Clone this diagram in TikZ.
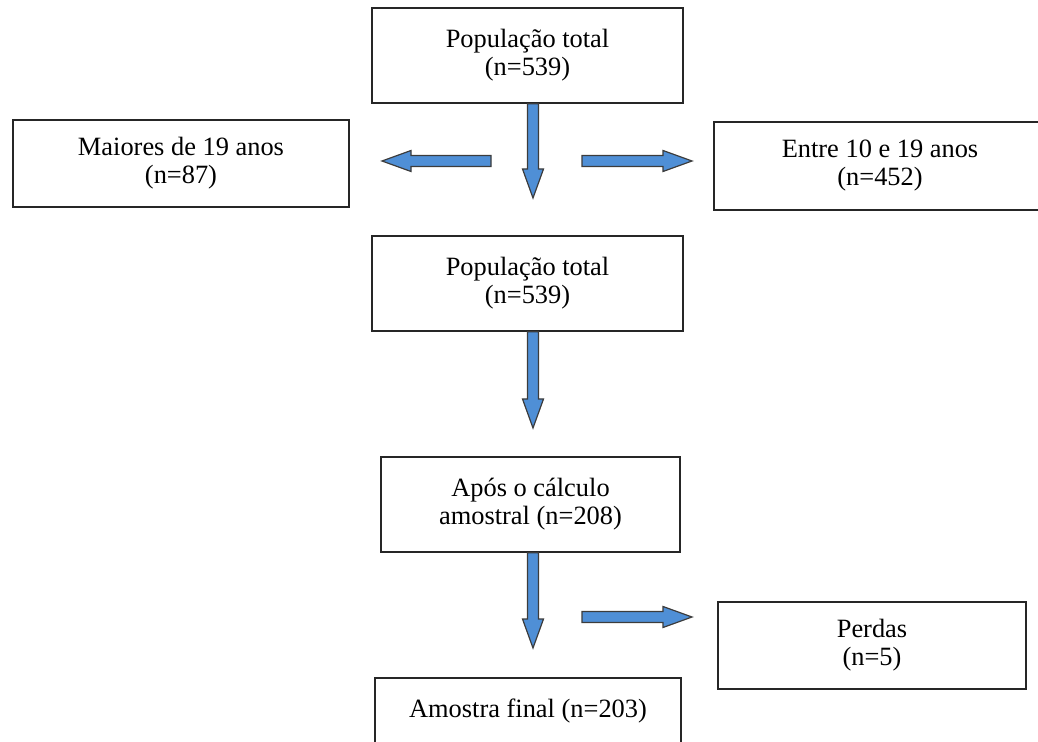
\documentclass[tikz,border=0pt]{standalone}
\usepackage{fontspec}
\setmainfont{Liberation Serif}
\usetikzlibrary{calc}
\definecolor{arrowblue}{RGB}{79,143,214}
\definecolor{arrowedge}{RGB}{60,60,60}
\tikzset{
  box/.style={draw=black!85, line width=0.75pt, align=center, inner sep=0pt,
    font=\fontsize{13.2}{14}\selectfont},
  fatarrow/.style={fill=arrowblue, draw=arrowedge, line width=0.6pt,
    to path={let \p1=(\tikztostart), \p2=(\tikztotarget),
      \n1={atan2(\y2-\y1,\x2-\x1)}, \n2={veclen(\x2-\x1,\y2-\y1)-14.5pt} in
      ($(\p1)+(\n1+90:2.75pt)$) -- ($(\p1)+(\n1:\n2)+(\n1+90:2.75pt)$)
      -- ($(\p1)+(\n1:\n2)+(\n1+90:5.25pt)$) -- (\p2)
      -- ($(\p1)+(\n1:\n2)+(\n1-90:5.25pt)$) -- ($(\p1)+(\n1:\n2)+(\n1-90:2.75pt)$)
      -- ($(\p1)+(\n1-90:2.75pt)$) -- cycle}}
}
\begin{document}
\begin{tikzpicture}[x=0.5pt, y=-0.5pt]
\useasboundingbox (0,0) rectangle (1038,742);
\node [box, minimum width=155.5pt, minimum height=47.5pt] (pop) at (527.5,55.5) {População total\\(n=539)};
\node [box, minimum width=168pt, minimum height=43.5pt] (maiores) at (181,163.5) {Maiores de 19 anos\\(n=87)};
\node [box, minimum width=166pt, minimum height=44pt] (entre) at (880,166) {Entre 10 e 19 anos\\(n=452)};
\node [box, minimum width=155.5pt, minimum height=47.5pt] (pop2) at (527.5,283.5) {População total\\(n=539)};
\node [box, minimum width=149.5pt, minimum height=47.5pt] (calculo) at (530.5,504.5) {Após o cálculo\\amostral (n=208)};
\node [box, minimum width=154pt, minimum height=43.5pt] (perdas) at (872,645.5) {Perdas\\(n=5)};
\node [box, minimum width=153pt, anchor=north, inner ysep=10pt, text height=10pt, text depth=40pt] (final) at (528,677) {Amostra final (n=203)};
\coordinate (d1) at (533,198);
\coordinate (l0) at (491,161);
\coordinate (l1) at (382,161);
\coordinate (r0) at (582,161);
\coordinate (r1) at (692,161);
\coordinate (d2) at (533,428);
\coordinate (d3) at (533,648);
\coordinate (p0) at (582,617);
\coordinate (p1) at (692,617);
\draw [fatarrow] (pop.south -| d1) to (d1);
\draw [fatarrow] (l0) to (l1);
\draw [fatarrow] (r0) to (r1);
\draw [fatarrow] (pop2.south -| d2) to (d2);
\draw [fatarrow] (calculo.south -| d3) to (d3);
\draw [fatarrow] (p0) to (p1);

% block arrows sit loose between the boxes, as in the flow chart

\end{tikzpicture}
\end{document}
